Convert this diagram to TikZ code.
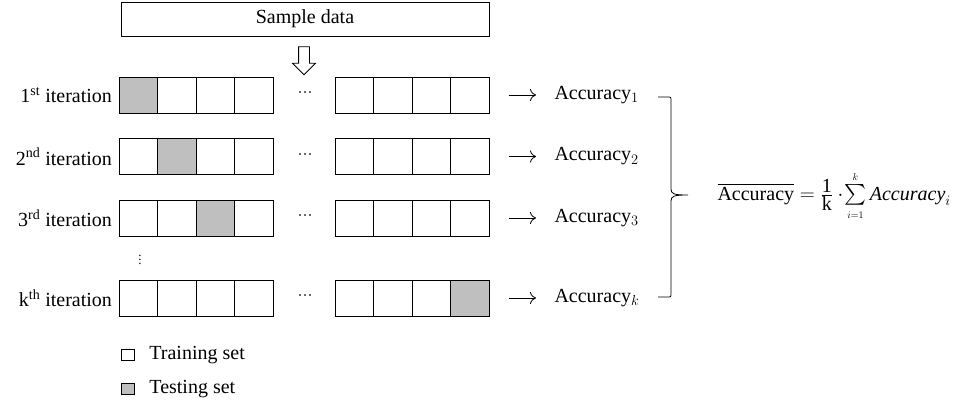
\documentclass[tikz,border=0pt]{standalone}
\usepackage{amsmath}
\usepackage{fontspec}
\setmainfont{Liberation Serif}
\usetikzlibrary{positioning,shapes.arrows,arrows.meta}

\begin{document}
\begin{tikzpicture}[x=1pt,y=-1pt,
    every node/.style={font=\fontsize{20}{24}\selectfont},
    cell/.style={draw,line width=1pt,minimum width=38.5pt,minimum height=36pt,inner sep=0pt},
    legbox/.style={draw,line width=0.8pt,minimum width=13pt,minimum height=11pt,inner sep=0pt},
    arr/.style={-{To[length=6pt,width=12pt]},line width=0.8pt,shorten <=19pt,shorten >=15pt}]
  \useasboundingbox (0,0) rectangle (956,402);

  \node[draw,line width=1pt,minimum width=368pt,minimum height=34pt] (sample) at (305,19) {Sample data};
  \node[single arrow,draw,line width=0.8pt,shape border rotate=270,minimum height=28pt,
        inner sep=5pt,single arrow head extend=6pt] (down) at (304,58) {};

  % one row per iteration
  \foreach \r/\y/\g/\lab in {1/95/1/{1\textsuperscript{st}},2/156.5/2/{2\textsuperscript{nd}},
                             3/218/3/{3\textsuperscript{rd}},k/298/8/{k\textsuperscript{th}}}{
    \foreach \i in {1,...,8}{
      \pgfmathsetmacro\cx{\i<5 ? 138.25+38.5*(\i-1) : 354.25+38.5*(\i-5)}
      \ifnum\i=\g \def\fc{gray!50}\else\def\fc{white}\fi
      \node[cell,fill=\fc] (r\r c\i) at (\cx,\y) {};
    }
    \node[left=3pt of r\r c1] (lab\r) {\lab{} iteration};
    \node[font=\fontsize{15}{16}\selectfont,inner sep=0pt] (dots\r) at (305,\y) {···};
    \node[anchor=west] (acc\r) at (551,\y) {Accuracy$_{\r}$};
    \draw[arr] (r\r c8.east) -- (acc\r.west);
  }
  \node[font=\fontsize{13}{14}\selectfont,inner sep=0pt] (vd) at (140,257) {$\vdots$};

  % brace
  \coordinate (btop) at (658,97);
  \coordinate (bbot) at (658,297);
  \draw[line width=0.8pt] (btop) -- ++(9,0) .. controls ++(4,0) and ++(0,-4) .. ++(4,4) -- (671,189)
    .. controls (671,194) and (674,195) .. (688,195)
    .. controls (674,195) and (671,196) .. (671,201) -- (671,293)
    .. controls (671,297) .. (667,297) -- (bbot);

  \node[anchor=west] (mean) at (714,196)
    {$\overline{\mbox{Accuracy}} = \frac{\mbox{1}}{\mbox{k}}\cdot\!\sum\limits_{\scriptscriptstyle i=1}^{\scriptscriptstyle k}\mbox{\itshape Accuracy}_i$};

  % legend
  \node[legbox] (trbox) at (128,355) {};
  \node[right=11pt of trbox] (trtext) {Training set};
  \node[legbox,fill=gray!50] (tebox) at (128,389) {};
  \node[right=11pt of tebox] (tetext) {Testing set};
\end{tikzpicture}
\end{document}
